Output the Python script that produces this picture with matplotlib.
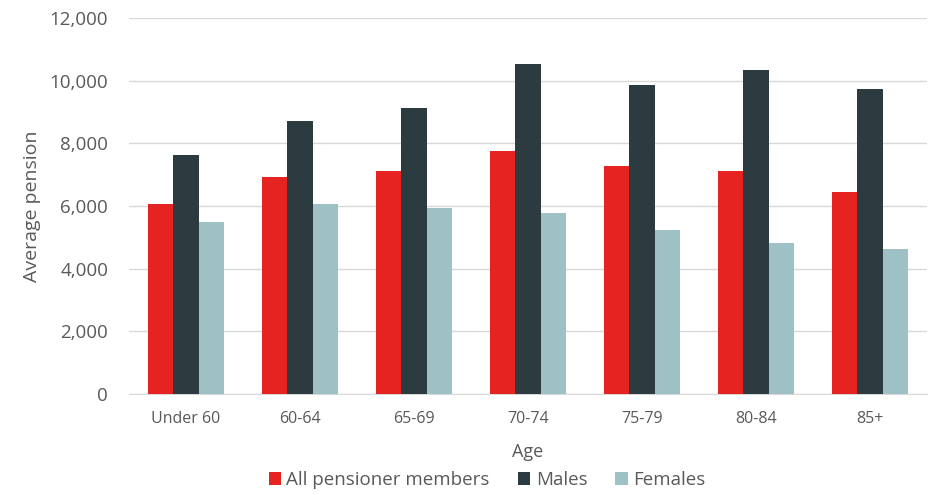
import numpy as np
import matplotlib
matplotlib.use("Agg")
import matplotlib.pyplot as plt
from matplotlib.ticker import FuncFormatter

plt.rcParams["font.family"] = ["Open Sans", "DejaVu Sans"]

ages = ["Under 60", "60-64", "65-69", "70-74", "75-79", "80-84", "85+"]
all_members = [6070, 6930, 7120, 7760, 7280, 7130, 6450]
males = [7630, 8710, 9130, 10530, 9860, 10340, 9740]
females = [5490, 6060, 5930, 5780, 5240, 4820, 4630]

series = [
    ("All pensioner members", all_members, "#E52321"),
    ("Males", males, "#2B3B40"),
    ("Females", females, "#9DC1C4"),
]

text_col = "#595959"
fig = plt.figure(figsize=(9.3, 4.95), dpi=100)
ax = fig.add_axes([129 / 930, 1 - 394 / 495, 798 / 930, 376 / 495])

x = np.arange(len(ages))
w = 0.22
for i, (name, vals, col) in enumerate(series):
    ax.bar(x + (i - 1) * w, vals, w, color=col, label=name, zorder=3)

ax.set_xlim(-0.5, len(ages) - 0.5)
ax.set_ylim(0, 12000)
ax.set_yticks(range(0, 12001, 2000))
ax.yaxis.set_major_formatter(FuncFormatter(lambda v, p: f"{int(v):,}"))
ax.set_xticks(x)
ax.set_xticklabels(ages)
ax.grid(axis="y", color="#D9D9D9", linewidth=1, zorder=0)
for s in ["top", "right", "left"]:
    ax.spines[s].set_visible(False)
ax.spines["bottom"].set_color("#D9D9D9")
ax.tick_params(axis="both", length=0, colors=text_col)
ax.tick_params(axis="y", labelsize=13.5, pad=15)
ax.tick_params(axis="x", labelsize=11.5, pad=12)
ax.set_ylabel("Average pension", fontsize=14, color=text_col, labelpad=6)
ax.set_xlabel("Age", fontsize=13, color=text_col, labelpad=12)

fig.legend(*ax.get_legend_handles_labels(), loc="center",
           bbox_to_anchor=(487 / 930, 1 - 480 / 495), ncol=3, frameon=False,
           fontsize=13.5, labelcolor=text_col, handlelength=0.65, handleheight=0.65,
           handletextpad=0.3, columnspacing=1.5, borderaxespad=0, borderpad=0)

fig.savefig("out.png", dpi=100)
